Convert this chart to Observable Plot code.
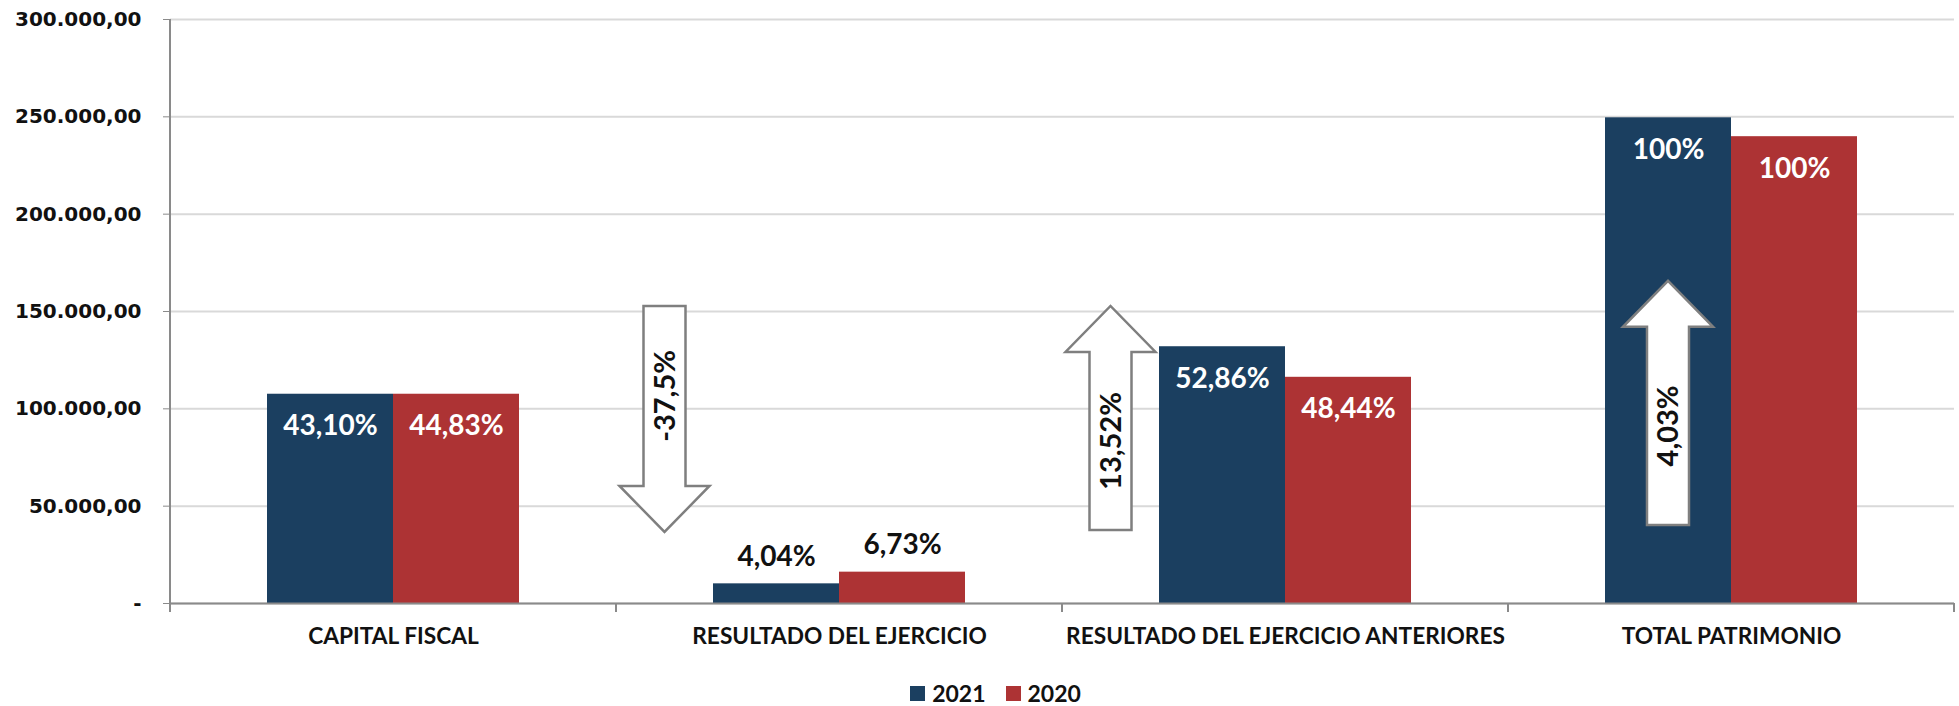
<!DOCTYPE html>
<html>
<head>
<meta charset="utf-8">
<script src="https://cdn.jsdelivr.net/npm/d3@7"></script>
<script src="https://cdn.jsdelivr.net/npm/@observablehq/plot@0.6"></script>
<style>
  html, body { margin: 0; padding: 0; background: #fff; overflow: hidden; }
  #legend { display: flex; justify-content: center; align-items: center; margin-top: 14px; height: 28px;
            padding-left: 32px; font: bold 23px Lato, sans-serif; color: #111; }
  #legend .item { display: flex; align-items: center; margin: 0 10px; }
  #legend .sw { width: 15px; height: 15px; margin-right: 7px; }
</style>
</head>
<body>
<div id="chart"></div>
<div id="legend"></div>
<script>
// ---- data ----
const categories = ["CAPITAL FISCAL", "RESULTADO DEL EJERCICIO", "RESULTADO DEL EJERCICIO ANTERIORES", "TOTAL PATRIMONIO"];
const years = ["2021", "2020"];
const values2021 = [107500, 10100, 131900, 249500];
const values2020 = [107500, 16100, 116200, 239800];
const share2021 = ["43,10%", "4,04%", "52,86%", "100%"];
const share2020 = ["44,83%", "6,73%", "48,44%", "100%"];
const yTicks = [0, 50000, 100000, 150000, 200000, 250000, 300000];
const changeCategories = ["RESULTADO DEL EJERCICIO", "RESULTADO DEL EJERCICIO ANTERIORES", "TOTAL PATRIMONIO"];
const changeLabels = ["-37,5%", "13,52%", "4,03%"];
const changeTail = [152600, 37500, 40100];
const changeTip = [36500, 152600, 165500];
const yearColors = ["#1b3f60", "#ad3334"];

// ---- table ----
const rows = [];
categories.forEach((c, i) => {
  rows.push({category: c, year: years[0], value: values2021[i], share: share2021[i]});
  rows.push({category: c, year: years[1], value: values2020[i], share: share2020[i]});
});
const insideRows = rows.filter(d => d.value > 50000);
const outsideRows = rows.filter(d => d.value <= 50000);

const loc = d3.formatLocale({decimal: ",", thousands: ".", grouping: [3], currency: ["", ""]});
const fmt = loc.format(",.2f");
const tickFmt = v => v === 0 ? "-" : fmt(v);

const W = 1959, H = 665;
const plot = Plot.plot({
  width: W,
  height: H,
  marginLeft: 169,
  marginRight: 4,
  marginTop: 19,
  marginBottom: 62,
  style: {fontFamily: "Lato, sans-serif", background: "#fff"},
  fx: {domain: categories, padding: 0, label: null},
  x: {domain: years, paddingInner: 0, paddingOuter: 0.76, axis: null},
  y: {domain: [0, 300000], label: null},
  color: {domain: years, range: yearColors},
  marks: [
    Plot.gridY(yTicks, {stroke: "#d9d9d9", strokeOpacity: 1, strokeWidth: 2}),
    Plot.barY(rows, {fx: "category", x: "year", y: "value", fill: "year"}),
    Plot.ruleY([0], {stroke: "#8a8a8a", strokeWidth: 2}),
    Plot.text(insideRows, {fx: "category", x: "year", y: "value", text: "share", dy: 32,
      fill: "white", fontSize: 28, fontWeight: "bold", fontFamily: "Lato, sans-serif"}),
    Plot.text(outsideRows, {fx: "category", x: "year", y: "value", text: "share", dy: -27,
      fill: "#111", fontSize: 28, fontWeight: "bold", fontFamily: "Lato, sans-serif"}),
    Plot.axisY(yTicks, {tickFormat: tickFmt, tickSize: 7, tickPadding: 22, stroke: "#8a8a8a",
      fill: "#111", fontSize: 20, fontWeight: "bold", fontFamily: "DejaVu Sans, Verdana, sans-serif", label: null}),
    Plot.axisFx({anchor: "bottom", tickSize: 0, tickPadding: 24, fill: "#111",
      fontSize: 22.7, fontWeight: "bold", fontFamily: "Lato, sans-serif", label: null})
  ]
});
document.getElementById("chart").appendChild(plot);

// ---- structural lines and change arrows, positioned through the plot's scales ----
const sFx = plot.scale("fx"), sX = plot.scale("x"), sY = plot.scale("y");
const svg = d3.select(plot);
const g = svg.append("g");
const y0 = sY.apply(0), yMax = sY.apply(300000);
const left = sFx.apply(categories[0]);
const right = sFx.apply(categories[categories.length - 1]) + sFx.bandwidth;
g.append("line").attr("x1", left).attr("x2", left).attr("y1", yMax).attr("y2", y0 + 8)
  .attr("stroke", "#8a8a8a").attr("stroke-width", 2);
const bounds = categories.map(c => sFx.apply(c)).concat([right]);
bounds.forEach(bx => {
  g.append("line").attr("x1", bx).attr("x2", bx).attr("y1", y0).attr("y2", y0 + 9)
    .attr("stroke", "#8a8a8a").attr("stroke-width", 2);
});

const shaftHalf = 21, headHalf = 45, headLen = 46;
const xStart = Math.min(...sX.range);
changeCategories.forEach((c, i) => {
  const bandStart = sFx.apply(c);
  const firstBar = sX.apply(years[0]) - xStart;
  // arrow sits in the gap before the bars, or over the 2021 bar when there is no room
  const cx = i < 2 ? bandStart + firstBar / 2 : bandStart + firstBar + sX.bandwidth / 2;
  const yt = sY.apply(changeTail[i]), yh = sY.apply(changeTip[i]);
  const dir = yh > yt ? 1 : -1;
  const yb = yh - dir * headLen;
  const pts = [
    [cx - shaftHalf, yt], [cx + shaftHalf, yt], [cx + shaftHalf, yb], [cx + headHalf, yb],
    [cx, yh], [cx - headHalf, yb], [cx - shaftHalf, yb]
  ];
  g.append("path").attr("d", "M" + pts.map(p => p.join(",")).join("L") + "Z")
    .attr("fill", "white").attr("stroke", "#7f7f7f").attr("stroke-width", 2.5);
  const my = (yt + yb) / 2;
  g.append("text").attr("transform", `translate(${cx},${my}) rotate(-90)`)
    .attr("text-anchor", "middle").attr("dy", "0.35em")
    .attr("font-family", "Lato, sans-serif").attr("font-weight", "bold").attr("font-size", 29)
    .attr("fill", "#111").text(changeLabels[i]);
});

// ---- legend ----
const legend = d3.select("#legend");
years.forEach((yr, i) => {
  const it = legend.append("div").attr("class", "item");
  it.append("div").attr("class", "sw").style("background", yearColors[i]);
  it.append("span").text(yr);
});
</script>
</body>
</html>
